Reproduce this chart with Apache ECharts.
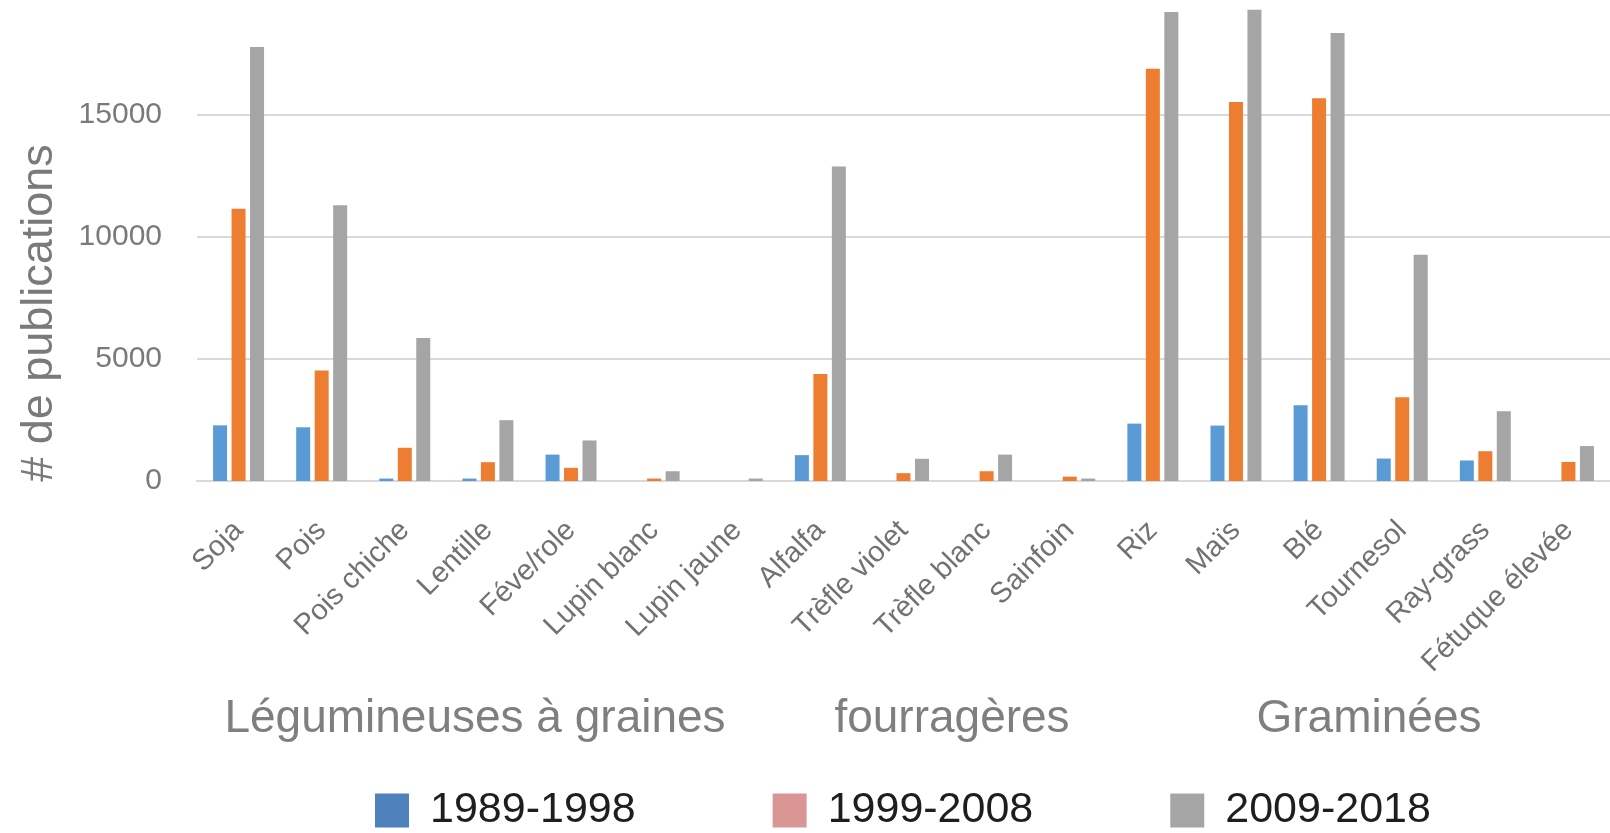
<!DOCTYPE html>
<html>
<head>
<meta charset="utf-8">
<script src="https://cdn.jsdelivr.net/npm/echarts@6/dist/echarts.min.js"></script>
<style>
  html, body { margin: 0; padding: 0; background: #ffffff; }
  #chart { width: 1610px; height: 833px; }
</style>
</head>
<body>
<div id="chart"></div>
<script>
// Crops and their publication counts per decade
const categories = ['Soja', 'Pois', 'Pois chiche', 'Lentille', 'Féve/role', 'Lupin blanc', 'Lupin jaune',
  'Alfalfa', 'Trèfle violet', 'Trèfle blanc', 'Sainfoin',
  'Riz', 'Maïs', 'Blé', 'Tournesol', 'Ray-grass', 'Fétuque élevée'];
const seriesNames = ['1989-1998', '1999-2008', '2009-2018'];
const pub1989 = [2280, 2200, 100, 100, 1080, 0, 0, 1060, 0, 0, 0, 2350, 2270, 3100, 920, 840, 0];
const pub1999 = [11150, 4530, 1360, 770, 540, 100, 0, 4380, 320, 400, 180, 16880, 15520, 15680, 3430, 1220, 780];
const pub2009 = [17770, 11290, 5860, 2490, 1660, 400, 100, 12880, 910, 1080, 100, 19210, 19300, 18350, 9270, 2860, 1430];
const yTicks = [0, 5000, 10000, 15000];
const yMax = 19700; // the value axis is cut just above the tallest bars
const groupLabels = ['Légumineuses à graines', 'fourragères', 'Graminées'];

const barColors = ['#5B9BD5', '#ED7D31', '#A5A5A5'];
const legendColors = ['#4F81BD', '#D99694', '#A5A5A5'];
const FONT = "'Liberation Sans', Arial, sans-serif";

const chart = echarts.init(document.getElementById('chart'), null, { renderer: 'canvas' });

const values = [pub1989, pub1999, pub2009];

chart.setOption({
  backgroundColor: '#ffffff',
  animation: false,
  grid: { left: 197, right: -2, top: 0, bottom: 352, containLabel: false },
  legend: {
    left: 370,
    top: 784,
    itemWidth: 34,
    itemHeight: 34,
    itemGap: 137,
    icon: 'rect',
    textStyle: { fontFamily: FONT, fontSize: 43, color: '#1e1e1e', padding: [0, 0, 0, 16] },
    data: seriesNames.map((n, i) => ({ name: n, itemStyle: { color: legendColors[i] } }))
  },
  xAxis: {
    type: 'category',
    data: categories,
    axisTick: { show: false },
    axisLine: { lineStyle: { color: '#d9d9d9', width: 2 } },
    axisLabel: {
      rotate: 45,
      interval: 0,
      margin: 45,
      fontFamily: FONT,
      fontSize: 29,
      color: '#727272'
    }
  },
  yAxis: {
    type: 'value',
    min: yTicks[0],
    max: yMax,
    interval: yTicks[1] - yTicks[0],
    axisLine: { show: false },
    axisTick: { show: false },
    splitLine: { showMaxLine: false, lineStyle: { color: '#d9d9d9', width: 2 } },
    axisLabel: {
      showMaxLabel: false,
      margin: 35,
      fontFamily: FONT,
      fontSize: 30,
      color: '#7a7a7a',
      formatter: v => (yTicks.indexOf(v) >= 0 ? String(v) : '')
    }
  },
  series: seriesNames.map((name, i) => ({
    name: name,
    type: 'bar',
    data: values[i],
    barWidth: 14,
    barGap: '32%',
    itemStyle: { color: barColors[i] }
  })),
  graphic: [
    {
      type: 'text',
      x: 40, y: 313,
      rotation: Math.PI / 2,
      style: {
        text: '# de publications',
        fontFamily: FONT, fontSize: 45, fill: '#7a7a7a',
        align: 'center', verticalAlign: 'middle'
      }
    },
    {
      type: 'text', x: 475, y: 719,
      style: { text: groupLabels[0], fontFamily: FONT, fontSize: 46, fill: '#7f7f7f', align: 'center', verticalAlign: 'middle' }
    },
    {
      type: 'text', x: 952, y: 719,
      style: { text: groupLabels[1], fontFamily: FONT, fontSize: 46, fill: '#7f7f7f', align: 'center', verticalAlign: 'middle' }
    },
    {
      type: 'text', x: 1369, y: 719,
      style: { text: groupLabels[2], fontFamily: FONT, fontSize: 46, fill: '#7f7f7f', align: 'center', verticalAlign: 'middle' }
    }
  ]
});
</script>
</body>
</html>
